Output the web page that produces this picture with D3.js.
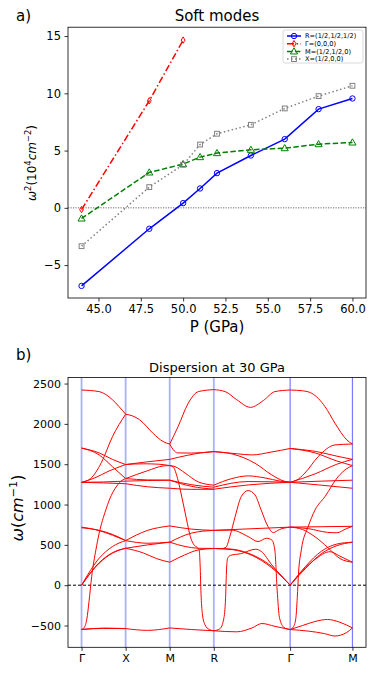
<!DOCTYPE html>
<html>
<head>
<meta charset="utf-8">
<script src="https://cdn.jsdelivr.net/npm/d3@7"></script>
<style>
  body { margin: 0; background: #fff; }
  text { font-family: "DejaVu Sans", sans-serif; }
</style>
</head>
<body>
<svg id="chart" width="374" height="675"></svg>
<script>
// ---- panel a) soft modes ----
const pressures = [44, 48, 50, 51, 52, 54, 56, 58, 60];
const pressuresGamma = [44, 48, 50];
const modeR = [-6.82, -1.83, 0.41, 1.69, 3.03, 4.57, 6.0, 8.62, 9.55];
const modeGamma = [-0.15, 9.35, 14.65];
const modeM = [-0.93, 3.09, 3.82, 4.43, 4.78, 5.07, 5.21, 5.56, 5.71];
const modeX = [-3.35, 1.81, 3.76, 5.53, 6.47, 7.25, 8.68, 9.76, 10.66];
const pressureTicks = [45, 47.5, 50, 52.5, 55, 57.5, 60];
const omega2Ticks = [-5, 0, 5, 10, 15];

// ---- panel b) dispersion ----
const kLabels = ["Γ", "X", "M", "R", "Γ", "M"];
const kPoints = [0, 0.5, 1.0, 1.5, 2.366, 3.073];
const freqTicks = [-500, 0, 500, 1000, 1500, 2000, 2500];

// bands per segment, [fraction along segment, frequency cm^-1]
const gammaX = [
  [[0,2420],[0.4,2400],[0.7,2300],[0.85,2215],[1,2120]],
  [[0,1275],[0.2,1320],[0.45,1520],[0.7,1840],[1,2120]],
  [[0,1700],[0.4,1640],[0.7,1560],[1,1496]],
  [[0,1700],[0.4,1615],[0.7,1470],[1,1322]],
  [[0,1275],[0.3,1330],[0.6,1410],[1,1496]],
  [[0,1275],[0.5,1280],[1,1290]],
  [[0,1275],[0.5,1268],[1,1258]],
  [[0,-550],[0.06,-525],[0.12,-420],[0.17,-200],[0.23,107],[0.325,437],[0.4,645],[0.55,933],[0.63,1057],[0.8,1230],[0.92,1300],[1,1322]],
  [[0,720],[0.4,677],[0.7,620],[1,553]],
  [[0,712],[0.4,680],[0.7,630],[1,553]],
  [[0,0],[0.4,334],[0.7,479],[1,553]],
  [[0,0],[0.4,273],[0.7,397],[1,458]],
  [[0,0],[0.4,280],[0.7,402],[1,458]],
  [[0,-550],[0.5,-532],[1,-538]],
  [[0,-548],[0.5,-536],[1,-538]]
];
const xM = [
  [[0,2120],[0.15,2100],[0.32,2050],[0.62,1884],[0.85,1781],[1,1750]],
  [[0,1496],[0.5,1530],[1,1560]],
  [[0,1496],[0.4,1505],[0.75,1500],[1,1483]],
  [[0,1322],[0.5,1420],[0.85,1478],[1,1483]],
  [[0,1322],[0.5,1305],[1,1302]],
  [[0,1290],[0.5,1298],[1,1302]],
  [[0,1258],[0.5,1220],[1,1202]],
  [[0,553],[0.5,680],[1,735]],
  [[0,553],[0.5,520],[1,533]],
  [[0,458],[0.5,500],[1,533]],
  [[0,458],[0.4,400],[0.7,330],[1,285]],
  [[0,-538],[0.5,-560],[1,-530]]
];
const mR = [
  [[0,1750],[0.19,1966],[0.42,2256],[0.65,2400],[1,2425]],
  [[0,1750],[0.08,1680],[0.18,1640],[0.5,1638],[1,1656]],
  [[0,1560],[0.4,1610],[0.7,1640],[1,1656]],
  [[0,1483],[0.08,1465],[0.18,1320],[0.28,1080],[0.38,820],[0.47,600],[0.55,500],[0.62,470],[0.67,430],[0.69,250],[0.71,-100],[0.74,-350],[0.8,-490],[0.9,-550],[1,-565]],
  [[0,1483],[0.12,1470],[0.35,1390],[0.65,1280],[1,1240]],
  [[0,1302],[0.5,1245],[1,1215]],
  [[0,1302],[0.5,1225],[1,1190]],
  [[0,1202],[0.5,1188],[1,1190]],
  [[0,735],[0.5,695],[1,680]],
  [[0,533],[0.49,645],[1,680]],
  [[0,533],[0.35,480],[0.65,458],[1,455]],
  [[0,285],[0.34,375],[0.65,437],[1,455]],
  [[0,-530],[0.5,-550],[1,-565]]
];
const rGamma = [
  [[0,2425],[0.15,2400],[0.3,2300],[0.48,2205],[0.65,2290],[0.8,2400],[1,2420]],
  [[0,1656],[0.3,1630],[0.5,1615],[0.75,1650],[1,1695]],
  [[0,1656],[0.25,1625],[0.54,1512],[0.76,1367],[0.92,1290],[1,1276]],
  [[0,1240],[0.23,1320],[0.45,1355],[0.67,1330],[0.87,1290],[1,1276]],
  [[0,1215],[0.45,1285],[1,1276]],
  [[0,1190],[0.45,1243],[1,1276]],
  [[0,455],[0.1,453],[0.16,470],[0.21,603],[0.28,851],[0.36,1099],[0.45,1173],[0.54,1119],[0.62,933],[0.71,727],[0.78,652],[0.86,690],[1,720]],
  [[0,680],[0.235,683],[0.45,603],[0.58,541],[0.69,582],[0.76,561],[0.8,437],[0.83,-60],[0.86,-400],[0.92,-525],[1,-550]],
  [[0,680],[0.5,700],[1,720]],
  [[0,-565],[0.08,-540],[0.13,-420],[0.155,-150],[0.165,150],[0.18,330],[0.22,370],[0.35,390],[0.55,446],[0.62,420],[0.76,252],[0.9,100],[1,0]],
  [[0,455],[0.2,450],[0.45,397],[0.76,231],[1,0]],
  [[0,455],[0.25,440],[0.5,370],[0.76,215],[1,0]],
  [[0,-565],[0.3,-578],[0.5,-530],[0.63,-475],[0.8,-510],[1,-550]]
];
const gammaM = [
  [[0,2420],[0.2,2410],[0.345,2380],[0.56,2214],[0.72,2008],[0.91,1801],[1,1750]],
  [[0,1276],[0.1,1300],[0.237,1390],[0.45,1594],[0.72,1739],[1,1750]],
  [[0,1695],[0.4,1660],[0.75,1600],[1,1560]],
  [[0,1695],[0.4,1640],[0.75,1540],[1,1483]],
  [[0,1276],[0.4,1380],[0.75,1500],[1,1560]],
  [[0,1276],[0.5,1290],[1,1302]],
  [[0,1276],[0.5,1240],[1,1202]],
  [[0,-550],[0.05,-520],[0.09,-420],[0.115,-150],[0.135,150],[0.18,438],[0.29,727],[0.4,933],[0.56,1099],[0.77,1346],[0.9,1440],[1,1483]],
  [[0,720],[0.5,725],[1,730]],
  [[0,720],[0.3,700],[0.6,655],[0.75,650],[0.9,700],[1,730]],
  [[0,720],[0.2,690],[0.4,600],[0.6,470],[0.8,330],[1,285]],
  [[0,0],[0.2,180],[0.4,320],[0.64,415],[0.8,360],[1,285]],
  [[0,0],[0.25,210],[0.5,390],[0.75,490],[1,533]],
  [[0,0],[0.25,235],[0.5,420],[0.75,510],[1,533]],
  [[0,-550],[0.2,-500],[0.4,-450],[0.6,-425],[0.8,-460],[1,-530]],
  [[0,-550],[0.3,-570],[0.55,-600],[0.72,-630],[0.9,-590],[1,-530]]
];
const segments = [gammaX, xM, mR, rGamma, gammaM];

const svg = d3.select("#chart");

// small helper for matplotlib-like mathtext labels
function mathText(sel, parts, size) {
  parts.forEach(p => {
    const t = sel.append("tspan").text(p.t);
    if (p.i) t.attr("font-style", "italic");
    if (p.sup) t.attr("font-size", size * 0.7).attr("dy", -size * 0.4);
    if (p.back) t.attr("dy", size * 0.4);
  });
}

function styleAxis(g, size) {
  g.select(".domain").remove();
  g.selectAll(".tick line").attr("stroke", "#000").attr("stroke-width", 0.8);
  g.selectAll(".tick text").attr("font-size", size).attr("fill", "#000")
    .attr("font-family", "DejaVu Sans");
}

// ================= panel a =================
const left = 68, right = 366;
const xP = d3.scaleLinear().domain([43.2, 60.8]).range([left, right]);
const yW = d3.scaleLinear().domain([-7.875, 15.775]).range([298, 27.2]);

const gA = svg.append("g");

gA.append("line")
  .attr("x1", left).attr("x2", right)
  .attr("y1", yW(0)).attr("y2", yW(0))
  .attr("stroke", "#444").attr("stroke-width", 0.8)
  .attr("stroke-dasharray", "1.2,1.3");

const series = [
  {name: "R=(1/2,1/2,1/2)", xs: pressures, ys: modeR, color: "#0000ff", dash: null, marker: "circle"},
  {name: "Γ=(0,0,0)", xs: pressuresGamma, ys: modeGamma, color: "#ff0000", dash: "7,2.5,1.5,2.5", marker: "thin"},
  {name: "M=(1/2,1/2,0)", xs: pressures, ys: modeM, color: "#008000", dash: "5.5,2.4", marker: "triangle"},
  {name: "X=(1/2,0,0)", xs: pressures, ys: modeX, color: "#808080", dash: "1.5,2.5", marker: "square"}
];

function drawMarker(g, type, x, y, color) {
  if (type === "circle") {
    g.append("circle").attr("cx", x).attr("cy", y).attr("r", 2.7)
      .attr("fill", "none").attr("stroke", color).attr("stroke-width", 1);
  } else if (type === "triangle") {
    g.append("path").attr("d", d3.symbol(d3.symbolTriangle, 22)())
      .attr("transform", `translate(${x},${y + 0.5})`)
      .attr("fill", "none").attr("stroke", color).attr("stroke-width", 1);
  } else if (type === "square") {
    g.append("rect").attr("x", x - 2.4).attr("y", y - 2.4).attr("width", 4.8).attr("height", 4.8)
      .attr("fill", "none").attr("stroke", color).attr("stroke-width", 1);
  } else {
    g.append("path").attr("d", `M${x},${y - 3.2}L${x + 1.9},${y}L${x},${y + 3.2}L${x - 1.9},${y}Z`)
      .attr("fill", "none").attr("stroke", color).attr("stroke-width", 1);
  }
}

const lineA = d3.line().x(d => xP(d[0])).y(d => yW(d[1]));
series.forEach(s => {
  const pts = s.xs.map((x, i) => [x, s.ys[i]]);
  gA.append("path").attr("d", lineA(pts))
    .attr("fill", "none").attr("stroke", s.color).attr("stroke-width", 1.5)
    .attr("stroke-dasharray", s.dash);
  pts.forEach(p => drawMarker(gA, s.marker, xP(p[0]), yW(p[1]), s.color));
});

// axes a
const axA = gA.append("g").attr("transform", "translate(0,298)")
  .call(d3.axisBottom(xP).tickValues(pressureTicks).tickFormat(d3.format(".1f")).tickSize(3.5).tickPadding(3));
styleAxis(axA, 11.5);
const ayA = gA.append("g").attr("transform", `translate(${left},0)`)
  .call(d3.axisLeft(yW).tickValues(omega2Ticks).tickFormat(d3.format("d")).tickSize(3.5).tickPadding(3.5));
styleAxis(ayA, 11.5);

gA.append("rect").attr("x", left).attr("y", 27.2).attr("width", right - left).attr("height", 298 - 27.2)
  .attr("fill", "none").attr("stroke", "#000").attr("stroke-width", 0.8);

// legend
const leg = gA.append("g");
leg.append("rect").attr("x", 283).attr("y", 30).attr("width", 80).attr("height", 33).attr("rx", 2)
  .attr("fill", "#fff").attr("fill-opacity", 0.8).attr("stroke", "#d0d0d0").attr("stroke-width", 0.8);
series.forEach((s, i) => {
  const y = 36 + i * 7.7;
  leg.append("line").attr("x1", 287).attr("x2", 301).attr("y1", y).attr("y2", y)
    .attr("stroke", s.color).attr("stroke-width", 1.5).attr("stroke-dasharray", s.dash);
  drawMarker(leg, s.marker, 294, y, s.color);
  leg.append("text").attr("x", 305).attr("y", y).attr("dy", "0.35em")
    .attr("font-size", 6.6).text(s.name);
});

svg.append("text").attr("x", 217).attr("y", 21).attr("text-anchor", "middle")
  .attr("font-size", 15).text("Soft modes");
svg.append("text").attr("x", 16).attr("y", 21).attr("font-size", 15).text("a)");
svg.append("text").attr("x", 217).attr("y", 332).attr("text-anchor", "middle")
  .attr("font-size", 15).text("P (GPa)");
const ylA = svg.append("text").attr("transform", "translate(36,163) rotate(-90)")
  .attr("text-anchor", "middle").attr("font-size", 12);
mathText(ylA, [{t: "ω", i: true}, {t: "2", sup: true}, {t: "(10", back: true}, {t: "4", sup: true},
  {t: "cm", i: true, back: true}, {t: "−2", sup: true}, {t: ")", back: true}], 12);

// ================= panel b =================
const topB = 377.5, botB = 647.3;
const xK = d3.scaleLinear().domain([-0.1537, 3.2267]).range([left, right]);
const yB = d3.scaleLinear().domain([-770, 2575]).range([botB, topB]);
const gB = svg.append("g");

kPoints.forEach((k, i) => {
  gB.append("line").attr("x1", xK(k)).attr("x2", xK(k)).attr("y1", topB).attr("y2", botB)
    .attr("stroke", i < 4 ? "#aab0ff" : "#7a7aff").attr("stroke-width", i < 4 ? 1.8 : 1.2);
});

gB.append("line").attr("x1", left).attr("x2", right).attr("y1", yB(0)).attr("y2", yB(0))
  .attr("stroke", "#000").attr("stroke-width", 1).attr("stroke-dasharray", "3,2");

segments.forEach((curves, s) => {
  const k0 = kPoints[s], k1 = kPoints[s + 1];
  const lineB = d3.line()
    .x(d => xK(k0 + d[0] * (k1 - k0)))
    .y(d => yB(d[1]))
    .curve(d3.curveMonotoneX);
  curves.forEach(c => {
    gB.append("path").attr("d", lineB(c))
      .attr("fill", "none").attr("stroke", "#ff0000").attr("stroke-width", 1);
  });
});

const axB = gB.append("g").attr("transform", `translate(0,${botB})`)
  .call(d3.axisBottom(xK).tickValues(kPoints).tickFormat((d, i) => kLabels[i]).tickSize(3.5).tickPadding(3.5));
styleAxis(axB, 11);
const ayB = gB.append("g").attr("transform", `translate(${left},0)`)
  .call(d3.axisLeft(yB).tickValues(freqTicks).tickFormat(d3.format("d")).tickSize(3.5).tickPadding(3.5));
styleAxis(ayB, 11);

gB.append("rect").attr("x", left).attr("y", topB).attr("width", right - left).attr("height", botB - topB)
  .attr("fill", "none").attr("stroke", "#000").attr("stroke-width", 0.8);

svg.append("text").attr("x", 16).attr("y", 360).attr("font-size", 15).text("b)");
svg.append("text").attr("x", 217).attr("y", 372).attr("text-anchor", "middle")
  .attr("font-size", 13).text("Dispersion at 30 GPa");
const ylB = svg.append("text").attr("transform", "translate(23,508) rotate(-90)")
  .attr("text-anchor", "middle").attr("font-size", 16);
mathText(ylB, [{t: "ω", i: true}, {t: "(", back: false}, {t: "cm", i: true}, {t: "−1", sup: true}, {t: ")", back: true}], 16);
</script>
</body>
</html>
